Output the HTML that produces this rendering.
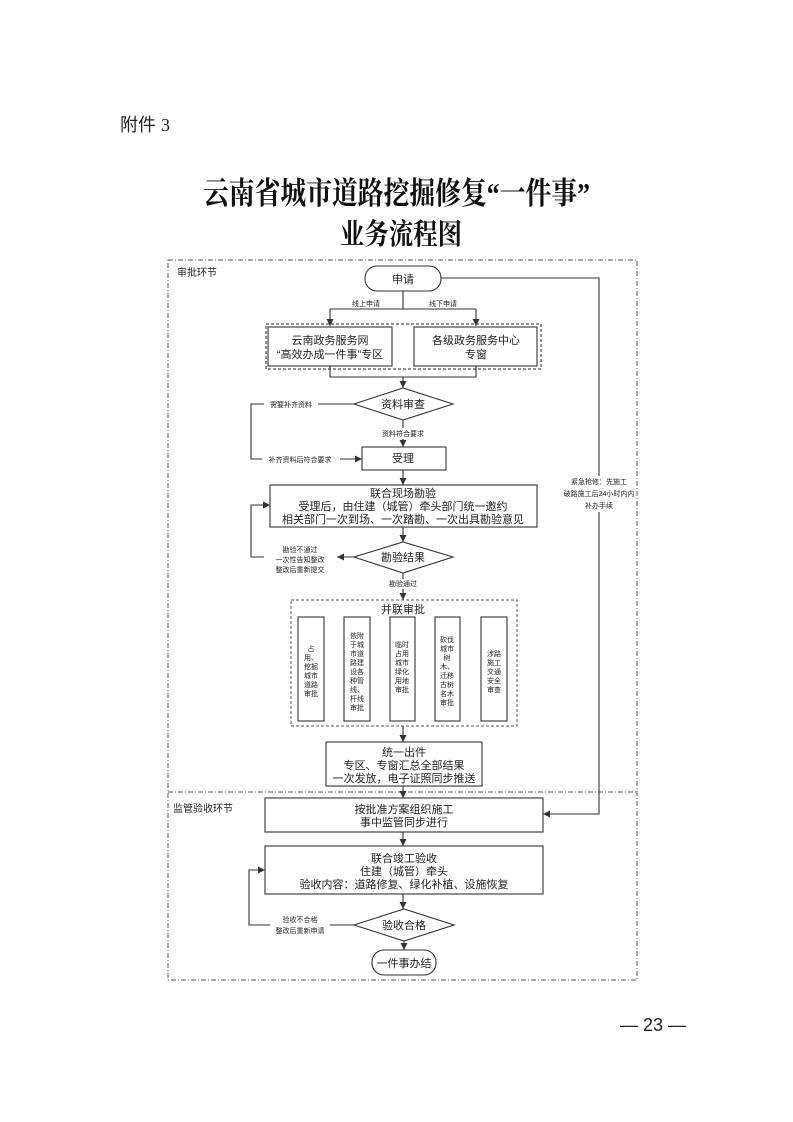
<!DOCTYPE html>
<html><head><meta charset="utf-8"><style>
html,body{margin:0;padding:0;background:#fff}
svg{display:block}
text{font-family:"Liberation Sans","Noto Sans CJK SC",sans-serif;fill:#222}
.t{font-size:11px}
.s{font-size:7px}
.ser{font-family:"Liberation Serif","Noto Serif CJK SC",serif;font-weight:bold;fill:#111}
</style></head><body>
<svg width="793" height="1122" viewBox="0 0 793 1122" xmlns="http://www.w3.org/2000/svg">
<defs><marker id="a" markerWidth="8" markerHeight="8" refX="7" refY="4" orient="auto" markerUnits="userSpaceOnUse"><path d="M0,0.5 L7,4 L0,7.5 z" fill="#333"/></marker></defs>
<text x="120" y="131" style="font-size:18px" fill="#111">附件 <tspan style="font-family:'Liberation Serif',serif">3</tspan></text>
<text x="203" y="204" class="ser" style="font-size:31px" textLength="387" lengthAdjust="spacingAndGlyphs">云南省城市道路挖掘修复“一件事”</text>
<text x="340" y="244" class="ser" style="font-size:29px" textLength="122" lengthAdjust="spacingAndGlyphs">业务流程图</text>
<text x="620" y="1031" style="font-size:18px" fill="#111">— 23 —</text>

<g fill="none" stroke="#555" stroke-width="1">
<rect x="168" y="260" width="469" height="720" stroke-dasharray="5,2,1,2"/>
<line x1="168" y1="792" x2="637" y2="792" stroke-dasharray="5,2,1,2"/>
<rect x="266" y="324" width="275" height="45" stroke-dasharray="3,2" stroke-width="1.3"/>
<rect x="291" y="600" width="226" height="126" stroke-dasharray="3,2"/>
</g>
<g fill="none" stroke="#333" stroke-width="1.1">
<rect x="365" y="266" width="76" height="25" rx="12"/>
<rect x="268" y="327" width="124" height="39"/>
<rect x="414" y="327" width="123" height="39"/>
<polygon points="354,404 403,388 453,404 403,420"/>
<rect x="362" y="447" width="84" height="23"/>
<rect x="270" y="485" width="267" height="42"/>
<polygon points="354,557 403,542 453,557 403,573"/>
<rect x="298" y="617" width="26" height="104"/>
<rect x="344" y="617" width="26" height="104"/>
<rect x="390" y="617" width="25" height="104"/>
<rect x="435" y="617" width="25" height="104"/>
<rect x="481" y="617" width="26" height="104"/>
<rect x="326" y="742" width="156" height="44"/>
<rect x="265" y="798" width="278" height="34"/>
<rect x="265" y="846" width="278" height="48"/>
<polygon points="354,925 404,909 454,925 404,941"/>
<rect x="372" y="950" width="64" height="25" rx="12"/>
<path d="M441,278 H599 V476 M599,512 V814 H543" marker-end="url(#a)"/>
<path d="M403,291 V309"/>
<path d="M330,309 H476"/>
<path d="M330,309 V326" marker-end="url(#a)"/>
<path d="M476,309 V326" marker-end="url(#a)"/>
<path d="M330,366 V377 H476 V366"/>
<path d="M403,377 V388" marker-end="url(#a)"/>
<path d="M403,420 V428 M403,439 V447" marker-end="url(#a)"/>
<path d="M354,404 H318 M264,404 H251 V459 H262" />
<path d="M340,459 H362" marker-end="url(#a)"/>
<path d="M403,470 V485" marker-end="url(#a)"/>
<path d="M403,527 V542" marker-end="url(#a)"/>
<path d="M354,557 H337" marker-end="url(#a)"/>
<path d="M264,557 H251 V505 H270" marker-end="url(#a)"/>
<path d="M403,573 V579 M403,589 V600" marker-end="url(#a)"/>
<path d="M403,726 V742" marker-end="url(#a)"/>
<path d="M403,786 V798" marker-end="url(#a)"/>
<path d="M403,832 V846" marker-end="url(#a)"/>
<path d="M403,894 V909" marker-end="url(#a)"/>
<path d="M354,925 H330 M270,925 H249 V870 H265" marker-end="url(#a)"/>
<path d="M404,941 V950" marker-end="url(#a)"/>
</g>
<text x="177" y="276" class="t" style="font-size:10px">审批环节</text>
<text x="173" y="812" class="t" style="font-size:10px">监管验收环节</text>
<g text-anchor="middle">
<text x="403" y="283" class="t">申请</text>
<text x="366" y="306" class="s">线上申请</text>
<text x="443" y="306" class="s">线下申请</text>
<text x="330" y="344" class="t">云南政务服务网</text>
<text x="330" y="358" class="t">“高效办成一件事”专区</text>
<text x="476" y="344" class="t">各级政务服务中心</text>
<text x="476" y="358" class="t">专窗</text>
<text x="403" y="408" class="t">资料审查</text>
<text x="291" y="407" class="s">需要补齐资料</text>
<text x="403" y="436" class="s">资料符合要求</text>
<text x="300" y="462" class="s">补齐资料后符合要求</text>
<text x="403" y="462" class="t">受理</text>
<text x="403" y="497" class="t">联合现场勘验</text>
<text x="403" y="510" class="t">受理后，由住建（城管）牵头部门统一邀约</text>
<text x="403" y="523" class="t">相关部门一次到场、一次踏勘、一次出具勘验意见</text>
<text x="403" y="561" class="t">勘验结果</text>
<text x="300" y="552" class="s">勘验不通过</text>
<text x="300" y="562" class="s">一次性告知整改</text>
<text x="300" y="572" class="s">整改后重新提交</text>
<text x="403" y="586" class="s">勘验通过</text>
<text x="599" y="484" class="s">紧急抢修：先施工</text>
<text x="599" y="496" class="s">破路施工后24小时内内</text>
<text x="599" y="508" class="s">补办手续</text>
<text x="403" y="613" class="t">并联审批</text>
<g class="s">
<text x="311" y="651" class="s">占</text><text x="311" y="660" class="s">用、</text><text x="311" y="669" class="s">挖掘</text><text x="311" y="678" class="s">城市</text><text x="311" y="687" class="s">道路</text><text x="311" y="696" class="s">审批</text>
<text x="357" y="638" class="s">依附</text><text x="357" y="647" class="s">于城</text><text x="357" y="656" class="s">市道</text><text x="357" y="665" class="s">路建</text><text x="357" y="674" class="s">设各</text><text x="357" y="683" class="s">种管</text><text x="357" y="692" class="s">线、</text><text x="357" y="701" class="s">杆线</text><text x="357" y="710" class="s">审批</text>
<text x="402" y="647" class="s">临时</text><text x="402" y="656" class="s">占用</text><text x="402" y="665" class="s">城市</text><text x="402" y="674" class="s">绿化</text><text x="402" y="683" class="s">用地</text><text x="402" y="692" class="s">审批</text>
<text x="447" y="642" class="s">砍伐</text><text x="447" y="651" class="s">城市</text><text x="447" y="660" class="s">树</text><text x="447" y="669" class="s">木、</text><text x="447" y="678" class="s">迁移</text><text x="447" y="687" class="s">古树</text><text x="447" y="696" class="s">名木</text><text x="447" y="705" class="s">审批</text>
<text x="494" y="656" class="s">涉路</text><text x="494" y="665" class="s">施工</text><text x="494" y="674" class="s">交通</text><text x="494" y="683" class="s">安全</text><text x="494" y="692" class="s">审查</text>
</g>
<text x="404" y="756" class="t">统一出件</text>
<text x="404" y="769" class="t">专区、专窗汇总全部结果</text>
<text x="404" y="782" class="t">一次发放，电子证照同步推送</text>
<text x="404" y="813" class="t">按批准方案组织施工</text>
<text x="404" y="826" class="t">事中监管同步进行</text>
<text x="404" y="862" class="t">联合竣工验收</text>
<text x="404" y="875" class="t">住建（城管）牵头</text>
<text x="404" y="888" class="t">验收内容：道路修复、绿化补植、设施恢复</text>
<text x="404" y="929" class="t">验收合格</text>
<text x="300" y="922" class="s">验收不合格</text>
<text x="300" y="933" class="s">整改后重新申请</text>
<text x="404" y="967" class="t">一件事办结</text>
</g>
</svg>
</body></html>
